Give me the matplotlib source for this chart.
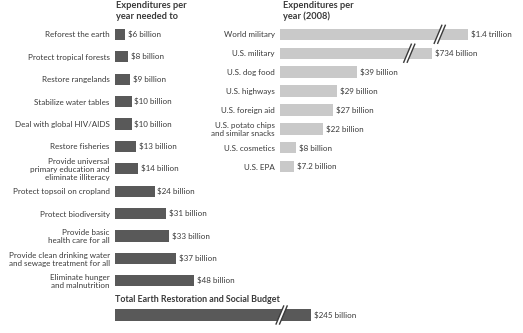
import matplotlib
matplotlib.use("Agg")
import matplotlib.pyplot as plt
from matplotlib.patches import Polygon
from matplotlib.transforms import IdentityTransform

# ---------------- data ----------------
need_labels = [
    "Reforest the earth",
    "Protect tropical forests",
    "Restore rangelands",
    "Stabilize water tables",
    "Deal with global HIV/AIDS",
    "Restore fisheries",
    "Provide universal\nprimary education and\neliminate illiteracy",
    "Protect topsoil on cropland",
    "Protect biodiversity",
    "Provide basic\nhealth care for all",
    "Provide clean drinking water\nand sewage treatment for all",
    "Eliminate hunger\nand malnutrition",
]
need_values = [6, 8, 9, 10, 10, 13, 14, 24, 31, 33, 37, 48]
need_value_labels = ["$6 billion", "$8 billion", "$9 billion", "$10 billion",
                     "$10 billion", "$13 billion", "$14 billion", "$24 billion",
                     "$31 billion", "$33 billion", "$37 billion", "$48 billion"]

spend_labels = [
    "World military",
    "U.S. military",
    "U.S. dog food",
    "U.S. highways",
    "U.S. foreign aid",
    "U.S. potato chips\nand similar snacks",
    "U.S. cosmetics",
    "U.S. EPA",
]
spend_values = [1400, 734, 39, 29, 27, 22, 8, 7.2]
spend_value_labels = ["$1.4 trillion", "$734 billion", "$39 billion", "$29 billion",
                      "$27 billion", "$22 billion", "$8 billion", "$7.2 billion"]

total_label = "Total Earth Restoration and Social Budget"
total_value = 245
total_value_label = "$245 billion"

left_title = "Expenditures per\nyear needed to"
right_title = "Expenditures per\nyear (2008)"

# ---------------- style ----------------
W, H = 523, 333
DARK = "#595959"
LIGHT = "#c9c9c9"
TXT = "#3a3a3a"
FONT = ["Lato", "DejaVu Sans"]
FS = 5.8
LEFT_SCALE = 1.65   # px per billion
RIGHT_SCALE = 1.97  # px per billion
# truncated (broken) bar display lengths, in axis units
SPEND_BROKEN_LEN = {0: 95.4, 1: 77.2}
TOTAL_BROKEN_LEN = 118.8
BREAK_FRAC = 0.85

plt.rcParams["font.family"] = FONT
fig = plt.figure(figsize=(W / 100, H / 100), dpi=100)


def px_axes(left, top, width, height):
    return fig.add_axes([left / W, 1 - (top + height) / H, width / W, height / H])


def clean(ax):
    for s in ax.spines.values():
        s.set_visible(False)
    ax.set_xticks([])
    ax.tick_params(axis="y", length=0, pad=3.8, labelsize=FS, labelcolor=TXT)
    ax.patch.set_alpha(0)


def break_mark(ax, x, y, color):
    cx, cy = ax.transData.transform((x, y))
    h = 9.0   # half height px
    dx = 3.8  # slant half width px
    gap = 3.5
    pts_a = [(cx - dx - gap / 2, cy - h), (cx + dx - gap / 2, cy + h)]
    pts_b = [(cx - dx + gap / 2, cy - h), (cx + dx + gap / 2, cy + h)]
    fill = Polygon([pts_a[0], pts_a[1], pts_b[1], pts_b[0]], closed=True,
                   facecolor="white", edgecolor="none", transform=IdentityTransform(),
                   zorder=5)
    fig.add_artist(fill)
    for p in (pts_a, pts_b):
        fig.add_artist(plt.Line2D([p[0][0], p[1][0]], [p[0][1], p[1][1]],
                                  color=color, lw=1.0, transform=IdentityTransform(),
                                  zorder=6))


# ---------------- left panel ----------------
axL = px_axes(115, 23.1, 150, 268.8)
yL = list(range(len(need_values)))
axL.barh(yL, need_values, height=0.5, color=DARK)
axL.set_xlim(0, 150 / LEFT_SCALE)
axL.set_ylim(len(need_values) - 0.5, -0.5)
axL.set_yticks(yL)
axL.set_yticklabels(need_labels, linespacing=1.15)
clean(axL)
for y, v, lab in zip(yL, need_values, need_value_labels):
    axL.annotate(lab, (v, y), xytext=(2.0, 0), textcoords="offset points",
                 va="center", ha="left", fontsize=FS, color=TXT)

# ---------------- right panel ----------------
axR = px_axes(280, 24.85, 240, 151.3)
yR = list(range(len(spend_values)))
spend_disp = [SPEND_BROKEN_LEN.get(i, v) for i, v in enumerate(spend_values)]
axR.barh(yR, spend_disp, height=0.6, color=LIGHT)
axR.set_xlim(0, 240 / RIGHT_SCALE)
axR.set_ylim(len(spend_values) - 0.5, -0.5)
axR.set_yticks(yR)
axR.set_yticklabels(spend_labels, linespacing=1.05)
clean(axR)
for y, v, lab in zip(yR, spend_disp, spend_value_labels):
    axR.annotate(lab, (v, y), xytext=(2.2, 0), textcoords="offset points",
                 va="center", ha="left", fontsize=FS, color=TXT)

# ---------------- total ----------------
axT = px_axes(115, 305, 300, 20)
axT.barh([0], [TOTAL_BROKEN_LEN], height=0.6, color=DARK)
axT.set_xlim(0, 300 / LEFT_SCALE)
axT.set_ylim(0.5, -0.5)
axT.set_yticks([])
clean(axT)
axT.annotate(total_value_label, (TOTAL_BROKEN_LEN, 0), xytext=(2.0, 0),
             textcoords="offset points", va="center", ha="left", fontsize=FS, color=TXT)

# ---------------- titles ----------------
fig.text(116 / W, 1 - 0.5 / H, left_title, ha="left", va="top", fontsize=6.7,
         fontweight="bold", color=TXT, linespacing=1.3)
fig.text(283 / W, 1 - 0.5 / H, right_title, ha="left", va="top", fontsize=6.7,
         fontweight="bold", color=TXT, linespacing=1.3)
fig.text(115 / W, 1 - 299.3 / H, total_label, ha="left", va="center", fontsize=6.4,
         fontweight="bold", color=TXT)

# ---------------- break marks ----------------
fig.canvas.draw()
for i in SPEND_BROKEN_LEN:
    break_mark(axR, SPEND_BROKEN_LEN[i] * BREAK_FRAC, i, TXT)
break_mark(axT, TOTAL_BROKEN_LEN * BREAK_FRAC, 0, TXT)

fig.savefig("out.png", dpi=100)
